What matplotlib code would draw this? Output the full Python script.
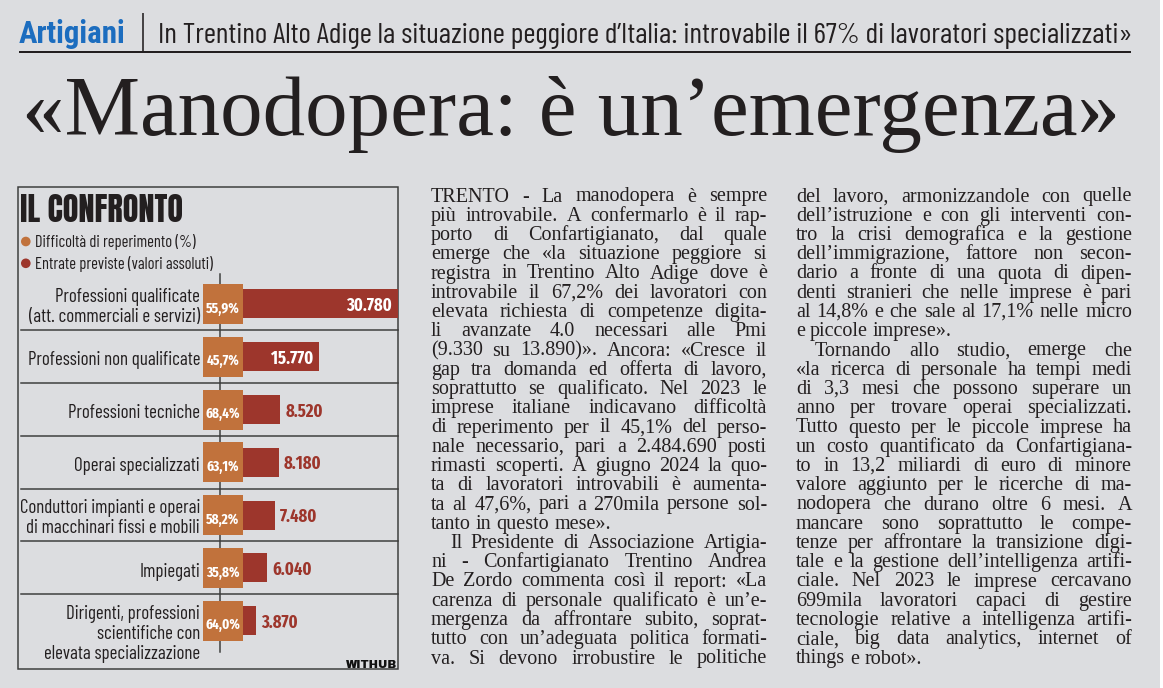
import os
import numpy as np
import matplotlib
matplotlib.use('Agg')
import matplotlib.pyplot as plt
from matplotlib import font_manager as fm
from matplotlib.font_manager import FontProperties
from matplotlib.patches import Rectangle, Circle

# ---------------- data ----------------
categories = [
    "Professioni qualificate\n(att. commerciali e servizi)",
    "Professioni non qualificate",
    "Professioni tecniche",
    "Operai specializzati",
    "Conduttori impianti e operai\ndi macchinari fissi e mobili",
    "Impiegati",
    "Dirigenti, professioni\nscientifiche con\nelevata specializzazione",
]
difficolta = [55.9, 45.7, 68.4, 63.1, 58.2, 35.8, 64.0]      # %
entrate = [30780, 15770, 8520, 8180, 7480, 6040, 3870]        # valori assoluti
legend_labels = ["Difficoltà di reperimento (%)", "Entrate previste (valori assoluti)"]
chart_title = "IL CONFRONTO"
kicker = "Artigiani"
subtitle = "In Trentino Alto Adige la situazione peggiore d’Italia: introvabile il 67% di lavoratori specializzati»"
headline = "«Manodopera: è un’emergenza»"
credit = "WITHUB"

col1 = [
    "TRENTO - La manodopera è sempre",
    "più introvabile. A confermarlo è il rap-",
    "porto di Confartigianato, dal quale",
    "emerge che «la situazione peggiore si",
    "registra in Trentino Alto Adige dove è",
    "introvabile il 67,2% dei lavoratori con",
    "elevata richiesta di competenze digita-",
    "li avanzate 4.0 necessari alle Pmi",
    "(9.330 su 13.890)». Ancora: «Cresce il",
    "gap tra domanda ed offerta di lavoro,",
    "soprattutto se qualificato. Nel 2023 le",
    "imprese italiane indicavano difficoltà",
    "di reperimento per il 45,1% del perso-",
    "nale necessario, pari a 2.484.690 posti",
    "rimasti scoperti. A giugno 2024 la quo-",
    "ta di lavoratori introvabili è aumenta-",
    "ta al 47,6%, pari a 270mila persone sol-",
    "tanto in questo mese».|",
    ">Il Presidente di Associazione Artigia-",
    "ni - Confartigianato Trentino Andrea",
    "De Zordo commenta così il report: «La",
    "carenza di personale qualificato è un’e-",
    "mergenza da affrontare subito, soprat-",
    "tutto con un’adeguata politica formati-",
    "va. Si devono irrobustire le politiche",
]
col2 = [
    "del lavoro, armonizzandole con quelle",
    "dell’istruzione e con gli interventi con-",
    "tro la crisi demografica e la gestione",
    "dell’immigrazione, fattore non secon-",
    "dario a fronte di una quota di dipen-",
    "denti stranieri che nelle imprese è pari",
    "al 14,8% e che sale al 17,1% nelle micro",
    "e piccole imprese».|",
    ">Tornando allo studio, emerge che",
    "«la ricerca di personale ha tempi medi",
    "di 3,3 mesi che possono superare un",
    "anno per trovare operai specializzati.",
    "Tutto questo per le piccole imprese ha",
    "un costo quantificato da Confartigiana-",
    "to in 13,2 miliardi di euro di minore",
    "valore aggiunto per le ricerche di ma-",
    "nodopera che durano oltre 6 mesi. A",
    "mancare sono soprattutto le compe-",
    "tenze per affrontare la transizione digi-",
    "tale e la gestione dell’intelligenza artifi-",
    "ciale. Nel 2023 le imprese cercavano",
    "699mila lavoratori capaci di gestire",
    "tecnologie relative a intelligenza artifi-",
    "ciale, big data analytics, internet of",
    "things e robot».|",
]

# ---------------- style ----------------
BG = '#dcdde0'
INK = '#231f20'
ORANGE = '#c1723c'
RED = '#9d362c'
BLUE = '#1c6dbf'
LINE = '#3c3c3c'
W, H = 1163, 688
PT = 72.0 / 100.0   # points per pixel

fig = plt.figure(figsize=(W / 100, H / 100), dpi=100, facecolor=BG)
page = fig.add_axes([0, 0, 1, 1])
page.set_xlim(0, W)
page.set_ylim(H, 0)
page.axis('off')
renderer = fig.canvas.get_renderer()

FAMS = set(f.name for f in fm.fontManager.ttflist)

def sized(fp, size):
    p = fp.copy()
    p.set_size(size)
    return p

def measure(s, fp, size):
    w, h, d = renderer.get_text_width_height_descent(s, sized(fp, size), ismath=False)
    return w, h, d

def fit(fp, cap_px, samples=(), width_px=None):
    _, h, _ = measure('H', fp, 100)
    size = 100.0 * cap_px / h
    if samples and width_px:
        w = max(measure(s, fp, size)[0] for s in samples)
        if w > width_px:
            size *= width_px / w
    return size

def choose(cands, weight, targets):
    """pick the family whose proportions best match (sample, cap_px, width_px) targets"""
    best, best_score = None, 1e9
    for c in cands:
        if c not in FAMS:
            continue
        fp = FontProperties(family=c, weight=weight)
        score = 0.0
        for smp, cap, wpx in targets:
            size = fit(fp, cap)
            w = measure(smp, fp, size)[0]
            score += abs(np.log(w / wpx))
        if score < best_score:
            best, best_score = fp, score
    return best if best is not None else FontProperties(family='DejaVu Sans', weight=weight)

COND_CANDS = ['Fira Sans Extra Condensed', 'Barlow Condensed', 'Sofia Sans Extra Condensed',
              'Sofia Sans Condensed', 'Asap Condensed', 'Encode Sans Condensed',
              'IBM Plex Sans Condensed', 'PT Sans Narrow', 'Archivo Narrow', 'Roboto Condensed',
              'Fira Sans Condensed', 'Saira Condensed', 'Saira Extra Condensed']
F_COND = choose(COND_CANDS, 'normal', [("Professioni non qualificate", 13.4, 177),
                                       ("(att. commerciali e servizi)", 13.4, 175),
                                       (subtitle, 22, 972)])
fam = F_COND.get_family()[0]
F_KICK = choose([fam, 'Fira Sans Extra Condensed', 'Barlow Condensed', 'Roboto Condensed'], 'heavy',
                [(kicker, 22, 109)])
F_NUM = choose(['Fira Sans Extra Condensed', 'Roboto Condensed'], 'bold',
               [("30.780", 14, 46), ("55,9%", 11, 34.6)])
F_BLACK = choose(['Anton', 'Bebas Neue', 'Oswald', 'Fira Sans Extra Condensed', 'Barlow Condensed',
                  'Sofia Sans Extra Condensed', 'Saira Extra Condensed'], 'black',
                 [(chart_title, 29, 162)])
F_CREDIT = FontProperties(family='Archivo Black' if 'Archivo Black' in FAMS else 'DejaVu Sans', weight='black')
F_SERIF = FontProperties(family='Liberation Serif' if 'Liberation Serif' in FAMS else 'DejaVu Serif')

def frac(x0, y0, x1, y1):
    return [x0 / W, 1 - y1 / H, (x1 - x0) / W, (y1 - y0) / H]

# ---------------- header ----------------
s = fit(F_KICK, 22, [kicker], 109)
page.text(19, 42.7, kicker, fontproperties=sized(F_KICK, s), color=BLUE, va='baseline', ha='left')
s = fit(F_COND, 22, [subtitle], 972)
page.text(158, 42.7, subtitle, fontproperties=sized(F_COND, s), color=INK, va='baseline', ha='left')
page.plot([19, 1131], [52, 52], color=INK, lw=2 * PT, solid_capstyle='butt')
page.plot([143, 143], [13, 52], color=INK, lw=1.6 * PT, solid_capstyle='butt')

s = fit(F_SERIF, 62, [headline], 1096)
page.text(22, 135, headline, fontproperties=sized(F_SERIF, s), color=INK, va='baseline', ha='left')

# ---------------- chart box ----------------
page.add_patch(Rectangle((18.3, 186.7), 397.7 - 18.3, 669 - 186.7, fill=False,
                         edgecolor=LINE, lw=1.5 * PT))
s = fit(F_BLACK, 29, [chart_title], 162)
page.text(20, 222, chart_title, fontproperties=sized(F_BLACK, s), color=INK, va='baseline', ha='left')

s_leg = fit(F_COND, 11.6, [legend_labels[1]], 183)
for (yy, col, lab) in [(241.5, ORANGE, legend_labels[0]), (263.3, RED, legend_labels[1])]:
    page.add_patch(Circle((25.8, yy), 4.8, color=col, lw=0))
    page.text(34.7, yy + 5.4, lab, fontproperties=sized(F_COND, s_leg), color=INK,
              va='baseline', ha='left')

# chart geometry
top_px, bot_px = 277.6, 647.0
n = len(categories)
row_h = (bot_px - top_px) / n
bar_x0, bar_x1 = 235.5, 398.0
sq_x0, sq_x1 = 203.0, 243.0

# vertical axis line and row separators (behind the bars)
page.plot([220, 220], [274, 652], color=LINE, lw=1.5 * PT, zorder=1)
for i in range(1, n):
    yy = top_px + i * row_h
    page.plot([20.7, 397.7], [yy, yy], color=LINE, lw=1.5 * PT, zorder=1)

ax_bar = fig.add_axes(frac(bar_x0, top_px, bar_x1, bot_px))
ax_bar.set_facecolor('none')
ax_bar.set_xlim(0, max(entrate))
ax_bar.set_ylim(n - 0.5, -0.5)
ax_bar.axis('off')
ypos = np.arange(n)
ax_bar.barh(ypos, entrate, height=29 / row_h, color=RED, lw=0)

ax_sq = fig.add_axes(frac(sq_x0, top_px, sq_x1, bot_px))
ax_sq.set_facecolor('none')
ax_sq.set_xlim(0, 1)
ax_sq.set_ylim(n - 0.5, -0.5)
ax_sq.axis('off')
ax_sq.barh(ypos, [1] * n, height=40 / row_h, color=ORANGE, lw=0)

pct_labels = [f"{v:.1f}%".replace('.', ',') for v in difficolta]
ent_labels = [f"{v:,}".replace(',', '.') for v in entrate]

s_pct = fit(F_NUM, 11.5, pct_labels, 35)
for i, lab in enumerate(pct_labels):
    ax_sq.annotate(lab, (0.5, i), xytext=(0, -8.7 * PT), textcoords='offset points',
                   ha='center', va='baseline', color='white',
                   fontproperties=sized(F_NUM, s_pct))

s_num = fit(F_NUM, 14, ['30.780'], 46)
inside_thr = max(entrate) * 0.4
for i, (v, lab) in enumerate(zip(entrate, ent_labels)):
    if v >= inside_thr:
        ax_bar.annotate(lab, (v, i), xytext=(-6 * PT, -7 * PT), textcoords='offset points',
                        ha='right', va='baseline', color='white',
                        fontproperties=sized(F_NUM, s_num), annotation_clip=False)
    else:
        ax_bar.annotate(lab, (v, i), xytext=(5 * PT, -7 * PT), textcoords='offset points',
                        ha='left', va='baseline', color=RED,
                        fontproperties=sized(F_NUM, s_num), annotation_clip=False)

# category labels
all_lines = [l for c in categories for l in c.split('\n')]
s_cat = fit(F_COND, 13.4, all_lines, 180)
for i, cat in enumerate(categories):
    cy = H - ax_bar.transData.transform((0, i))[1]
    lines = cat.split('\n')
    y0 = cy + 8.7 if len(lines) == 1 else cy - 2
    for k, l in enumerate(lines):
        page.text(200, y0 + k * 20.2, l, fontproperties=sized(F_COND, s_cat), color=INK,
                  ha='right', va='baseline')

s = fit(F_CREDIT, 8, [credit], 51)
page.text(397, 668, credit, fontproperties=sized(F_CREDIT, s), color='#111111',
          ha='right', va='baseline')

# ---------------- body text (justified) ----------------
COLW = 336
def body_size(lines, cap_target=13.3, squeeze=0.55):
    size = fit(F_SERIF, cap_target)
    for _ in range(3):
        sp = measure('a a', F_SERIF, size)[0] - measure('aa', F_SERIF, size)[0]
        worst = 1.0
        for raw in lines:
            ind = 19 if raw.startswith('>') else 0
            t = raw.strip('>|')
            words = t.split(' ')
            ww = sum(measure(w, F_SERIF, size)[0] for w in words)
            need = ww + (len(words) - 1) * sp * squeeze + ind
            worst = max(worst, need / COLW)
        size /= worst
    return size

s_body = body_size(col1 + col2)
sp_body = measure('a a', F_SERIF, s_body)[0] - measure('aa', F_SERIF, s_body)[0]
fpb = sized(F_SERIF, s_body)

def draw_column(lines, x0, base0, step=19.25):
    for k, raw in enumerate(lines):
        ind = 19 if raw.startswith('>') else 0
        last = raw.endswith('|')
        t = raw.strip('>|')
        words = t.split(' ')
        ws = [measure(w, F_SERIF, s_body)[0] for w in words]
        if last or len(words) == 1:
            gap = sp_body
        else:
            gap = (COLW - ind - sum(ws)) / (len(words) - 1)
        x = x0 + ind
        y = base0 + k * step
        for w, wd in zip(words, ws):
            page.text(x, y, w, fontproperties=fpb, color=INK, ha='left', va='baseline')
            x += wd + gap

draw_column(col1, 431, 201.5)
draw_column(col2, 796, 201.5)

page.add_patch(Rectangle((1160, 0), 3, H, color='white', lw=0))

fig.savefig('out.png', dpi=100, facecolor=BG)
